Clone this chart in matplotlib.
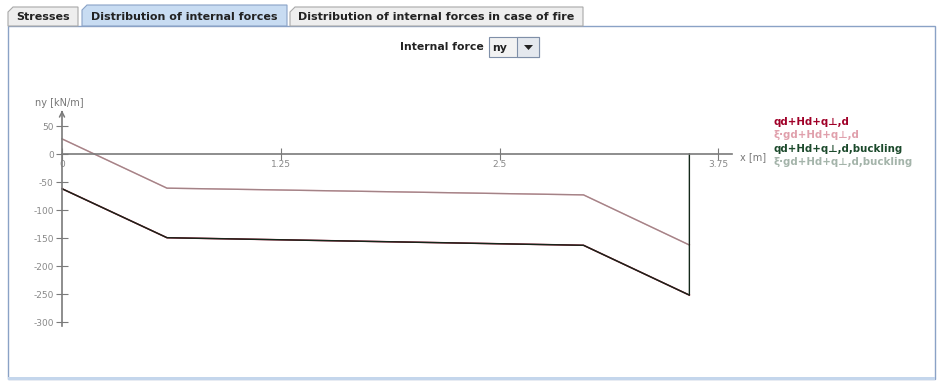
import matplotlib.pyplot as plt
from matplotlib.patches import Rectangle, Polygon

plt.rcParams['axes.unicode_minus'] = False

# data
x_pos = [0.0, 0.6, 2.98, 3.585]
ny_d = [-62, -149.5, -163, -252]          # qd+Hd+q⊥,d
ny_fire = [27, -61, -73, -162.5]          # ξ·gd+Hd+q⊥,d
ny_buck = [-62, -149.5, -163, -252, 0]    # qd+Hd+q⊥,d,buckling (closed at the end)
x_buck = [0.0, 0.6, 2.98, 3.585, 3.585]
ny_fire_buck = [27, -61, -73, -162.5]     # ξ·gd+Hd+q⊥,d,buckling

x_ticks = [0, 1.25, 2.5, 3.75]
x_tick_labels = ['0', '1.25', '2.5', '3.75']
y_ticks = [50, 0, -50, -100, -150, -200, -250, -300]

legend_labels = ['qd+Hd+q⊥,d', 'ξ·gd+Hd+q⊥,d',
                 'qd+Hd+q⊥,d,buckling', 'ξ·gd+Hd+q⊥,d,buckling']
legend_colors = ['#a00028', '#e0a0ac', '#1c4a2c', '#a4b4aa']
tabs = ['Stresses', 'Distribution of internal forces',
        'Distribution of internal forces in case of fire']

W, H = 943, 385
fig = plt.figure(figsize=(W / 100, H / 100), dpi=100)


def fx(x):
    return x / W


def fy(y):
    return 1 - y / H


def add_patch(p):
    p.set_transform(fig.transFigure)
    p.set_zorder(-5)
    fig.patches.append(p)


# --- window chrome: panel and tabs
add_patch(Rectangle((fx(8), fy(379)), fx(927), 353 / H,
                    facecolor='white', edgecolor='#8aa2c6', lw=1.0))
add_patch(Rectangle((fx(8), fy(380)), fx(927), 3 / H,
                    facecolor='#c4d6ec', edgecolor='none'))
tab_box = [(8, 78), (82, 287), (290, 583)]
for i, (t, (a, b)) in enumerate(zip(tabs, tab_box)):
    sel = i == 1
    top = 5 if sel else 7
    add_patch(Polygon([(fx(a), fy(26)), (fx(a), fy(top + 5)), (fx(a + 5), fy(top)),
                       (fx(b), fy(top)), (fx(b), fy(26))], closed=True,
                      facecolor='#c8dcf2' if sel else '#eeeeee',
                      edgecolor='#8aa2c6' if sel else '#a8a8a8', lw=0.8))
    fig.text(fx((a + b) / 2), fy(17), t, ha='center', va='center', fontsize=8.0,
             fontweight='bold', color='#222222')

# combo box "Internal force"
fig.text(fx(484), fy(47), 'Internal force', ha='right', va='center', fontsize=7.8,
         fontweight='bold', color='#222222')
add_patch(Rectangle((fx(489), fy(57)), fx(50), 20 / H,
                    facecolor='#f2f2f2', edgecolor='#7f8fa8', lw=0.8))
add_patch(Rectangle((fx(517), fy(57)), fx(22), 20 / H,
                    facecolor='#e4e8ee', edgecolor='#7f8fa8', lw=0.8))
add_patch(Polygon([(fx(524), fy(45)), (fx(533), fy(45)), (fx(528.5), fy(50))],
                  closed=True, facecolor='#222222', edgecolor='none'))
fig.text(fx(492), fy(48), 'ny', ha='left', va='center', fontsize=7.8,
         fontweight='bold', color='#222222')

# --- chart: pixel x = 62 + 175*x, pixel y = 154 - 0.56*ny
left_px, right_px, top_px, bot_px = 20, 740, 100, 335
ax = fig.add_axes([fx(left_px), fy(bot_px), (right_px - left_px) / W, (bot_px - top_px) / H])
ax.set_xlim((left_px - 62) / 175, (right_px - 62) / 175)
ax.set_ylim((154 - bot_px) / 0.56, (154 - top_px) / 0.56)
ax.patch.set_alpha(0)

ax.plot(x_pos, ny_fire, color=legend_colors[1], lw=1.0)
ax.plot(x_pos, ny_fire_buck, color='#8a7878', lw=1.0, alpha=0.7)
ax.plot(x_pos, ny_d, color=legend_colors[0], lw=1.1)
ax.plot(x_buck, ny_buck, color='#14281a', lw=1.0)

axis_c = '#7a7a7a'
for s in ['top', 'right']:
    ax.spines[s].set_visible(False)
ax.spines['left'].set_position(('data', 0))
ax.spines['bottom'].set_position(('data', 0))
ax.spines['left'].set_bounds(-307, 72)
ax.spines['bottom'].set_bounds(0, 3.83)
for s in ['left', 'bottom']:
    ax.spines[s].set_color(axis_c)
    ax.spines[s].set_linewidth(1.2)
ax.annotate('', xy=(0, 78), xytext=(0, 70),
            arrowprops=dict(arrowstyle='->', color=axis_c, lw=1.1, mutation_scale=9))
ax.annotate('', xy=(3.88, 0), xytext=(3.8, 0),
            arrowprops=dict(arrowstyle='->', color=axis_c, lw=1.1, mutation_scale=9))

ax.set_xticks(x_ticks)
ax.set_xticklabels(x_tick_labels)
ax.set_yticks(y_ticks)
ax.tick_params(axis='both', direction='inout', length=8, width=0.8, color=axis_c,
               labelsize=6.5, labelcolor='#888888')
ax.tick_params(axis='x', pad=0)
ax.tick_params(axis='y', pad=2)

fig.text(fx(35), fy(103), 'ny [kN/m]', ha='left', va='center', fontsize=7,
         color='#777777')
fig.text(fx(740), fy(157), 'x [m]', ha='left', va='center', fontsize=7,
         color='#777777')

for i, (lab, c) in enumerate(zip(legend_labels, legend_colors)):
    fig.text(fx(774), fy(122 + 13.3 * i), lab, ha='left', va='center', fontsize=7.4,
             fontweight='bold', color=c)

fig.savefig('out.png', dpi=100)
